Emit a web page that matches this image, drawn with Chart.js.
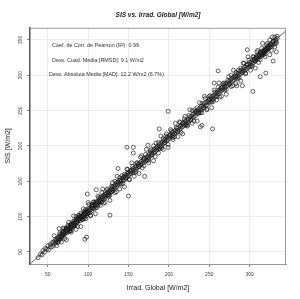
<!DOCTYPE html>
<html>
<head>
<meta charset="utf-8">
<script src="https://cdn.jsdelivr.net/npm/chart.js@4"></script>
<style>
  body { margin: 0; background: #fff; }
  #caja { width: 300px; height: 299px; }
</style>
</head>
<body>
<div id="caja"><canvas id="grafico" width="300" height="299"></canvas></div>
<script>
// Textos del grafico
const tituloGrafico = "SIS vs. Irrad. Global [W/m2]";
const tituloX = "Irrad. Global [W/m2]";
const tituloY = "SIS [W/m2]";
const estadisticos = [
    "Coef. de Corr. de Pearson (R\u00b2): 0.99",
    "Desv. Cuad. Media [RMSD]: 9.1 W/m2",
    "Desv. Absoluta Media [MAD]: 12.2 W/m2 (6.7%)"
];

// Ejes
const ticksX = [50, 100, 150, 200, 250, 300];
const ticksY = [50, 100, 150, 200, 250, 300, 350];
const rangoX = [28, 345];
const rangoY = [33, 367];

// Linea de referencia (extremos)
const refX = [28, 345];
const refY = [33, 363];

// Nube principal: irradiancia medida vs SIS
const irradNube = [
    38,41,43,44,46,47,49,50,51,53,
    54,55,56,57,58,59,60,60,61,62,
    62,63,64,64,65,65,66,66,67,67,
    68,68,69,69,70,70,71,71,72,72,
    73,73,74,74,75,75,76,76,77,77,
    78,78,79,79,80,80,81,81,82,82,
    83,83,84,84,85,85,86,86,87,87,
    88,88,89,89,90,90,91,91,92,92,
    93,93,94,94,95,95,96,96,97,97,
    98,98,99,99,100,100,101,102,102,103,
    104,104,105,105,106,107,107,108,109,109,
    110,110,111,112,112,113,114,114,115,115,
    116,117,117,118,119,119,120,121,121,122,
    123,124,124,125,126,126,127,128,129,129,
    130,130,131,132,133,134,135,135,136,137,
    138,139,140,140,141,142,143,144,145,145,
    146,147,148,149,150,150,151,152,153,154,
    155,156,157,158,159,160,161,162,163,164,
    165,166,167,168,169,170,171,172,173,174,
    175,176,177,178,179,180,181,182,183,184,
    185,186,187,188,189,190,191,192,193,194,
    195,196,197,198,199,200,201,202,203,204,
    205,206,207,208,209,210,211,212,213,214,
    215,216,217,218,219,220,221,222,223,224,
    225,226,227,228,229,230,231,232,233,234,
    235,236,237,238,239,240,241,242,243,244,
    245,246,247,248,249,250,251,252,253,254,
    255,256,257,258,259,260,261,262,263,264,
    265,266,267,268,269,270,271,272,273,274,
    275,276,277,278,279,280,281,282,283,284,
    285,286,287,288,289,290,291,292,293,294,
    295,296,297,298,299,300,301,302,303,304,
    305,306,307,308,309,310,311,312,313,314,
    315,316,317,318,319,320,321,322,323,324,
    325,326,327,328,329,330,331,332,334,333
];
const sisNube = [
    42,47,46,52,50,55,54,59,53,60,
    57,63,58,64,61,66,63,68,66,70,
    64,69,72,67,70,75,73,68,74,71,
    77,72,75,79,74,78,80,76,77,82,
    79,84,80,77,83,86,81,84,85,80,
    83,88,86,90,84,88,89,86,91,87,
    90,94,92,88,93,96,91,95,97,93,
    95,99,96,101,98,94,100,97,99,103,
    101,96,103,100,105,99,104,108,103,106,
    107,101,108,104,106,111,109,112,106,110,
    115,108,112,117,113,116,111,118,115,120,
    117,121,119,122,116,121,124,119,122,127,
    125,121,128,126,124,130,128,131,126,129,
    133,130,135,132,136,131,134,138,135,140,
    137,142,139,143,140,145,142,148,145,149,
    146,151,147,152,150,154,151,156,152,157,
    155,159,156,161,158,163,160,164,161,166,
    163,168,165,170,167,172,169,174,171,176,
    173,178,175,180,177,182,179,184,181,186,
    183,189,186,190,188,193,190,195,192,197,
    194,199,196,202,199,204,200,206,203,208,
    205,210,207,212,209,214,211,216,213,219,
    215,220,217,222,219,225,221,226,223,228,
    225,230,227,233,229,235,231,236,233,238,
    235,241,237,242,239,245,241,247,243,249,
    246,251,248,253,250,256,252,257,254,260,
    256,262,258,263,261,266,262,268,265,270,
    266,272,269,274,271,276,274,279,276,281,
    278,283,280,286,282,288,284,289,286,291,
    288,293,290,296,292,297,294,299,296,302,
    298,303,300,306,302,307,304,309,306,311,
    308,314,310,315,312,318,314,319,316,322,
    318,323,320,326,322,328,324,329,326,332,
    328,334,331,336,333,338,335,340,337,342,
    339,344,341,346,343,348,345,350,352,347
];

// Segunda franja de la nube (desvio intermedio)
const irradFranja = [
    63,65,67,69,71,73,75,77,79,81,
    83,85,87,89,91,93,95,97,99,101,
    103,105,107,109,111,113,115,117,119,121,
    123,125,127,129,131,133,135,137,139,141,
    143,145,147,149,151,153,155,157,159,161,
    163,165,167,169,171,173,175,177,179,181,
    183,185,187,189,191,193,195,197,199,201,
    203,205,207,209,211,213,215,217,219,221,
    223,225,227,229,231,233,235,237,239,241,
    243,245,247,249,251,253,255,257,259,261,
    263,265,267,269,271,273,275,277,279,281,
    283,285,287,289,291,293,295,297,299,301,
    303,305,307,309,311,313,315,317,319,321,
    323,325,327,329,331,333
];
const sisFranja = [
    64,77,71,84,69,82,88,79,80,93,
    87,100,86,99,105,96,97,110,104,117,
    102,115,121,112,113,127,121,134,119,132,
    138,129,130,143,137,150,135,149,155,146,
    147,160,154,167,152,165,171,162,163,176,
    171,184,169,182,188,179,180,193,187,200,
    185,198,205,196,197,210,204,217,202,215,
    221,212,213,226,220,234,219,232,238,229,
    230,243,237,250,235,248,254,246,247,260,
    254,267,252,265,271,262,263,276,270,283,
    269,282,288,279,280,293,287,300,285,298,
    304,295,296,310,304,317,302,315,321,312,
    313,326,320,333,318,332,338,329,330,343,
    337,350,335,348,354,345
];

// Puntos mas dispersos alrededor de la nube
const irradDisp = [
    58,61,64,67,70,73,76,79,82,85,
    88,91,94,97,100,103,106,109,112,115,
    118,121,124,127,130,133,136,139,142,145,
    148,151,154,157,160,163,166,169,172,175,
    178,181,184,187,190,193,196,199,202,205,
    208,211,214,217,220,223,226,229,232,235,
    238,241,244,247,250,253,256,259,262,265,
    268,271,274,277,280,283,286,289,292,295,
    298,301,304,307,310,313,316,319,322,325,
    328,331,334
];
const sisDisp = [
    73,59,83,64,83,67,92,78,101,82,
    102,86,111,97,120,101,120,104,129,116,
    139,120,139,123,148,134,157,139,158,142,
    167,153,176,157,176,161,186,172,195,176,
    195,179,204,190,214,195,214,198,223,209,
    232,213,233,217,242,228,251,232,251,235,
    261,247,270,251,270,254,279,265,289,270,
    289,273,298,284,307,288,307,292,317,303,
    326,307,326,310,335,322,345,326,345,329,
    354,340,355
];

// Valores atipicos
const irradAtip = [96,98,99,127,137,150,170,148,156,156,174,188,199,239,241,254,256,261,284,291,304,313,320,329,333,297,110];
const sisAtip   = [68,71,132,102,168,129,157,198,198,190,201,224,249,227,229,224,289,306,285,285,277,298,303,320,333,336,138];

// Cumulo denso en valores altos
const irradCumulo = [306,308,310,312,314,316,318,320,322,324,326,319,321,317,315];
const sisCumulo   = [321,324,326,327,330,332,334,336,338,341,343,335,337,331,329];

const fuente = "'Liberation Sans', Arial, sans-serif";

function aPuntos(xs, ys) {
    return xs.map((x, i) => ({ x: x, y: ys[i] }));
}

const puntos = []
    .concat(aPuntos(irradNube, sisNube))
    .concat(aPuntos(irradFranja, sisFranja))
    .concat(aPuntos(irradDisp, sisDisp))
    .concat(aPuntos(irradAtip, sisAtip))
    .concat(aPuntos(irradCumulo, sisCumulo));

// Marco del grafico y cuadro de estadisticos
const marco = {
    id: "marco",
    afterDraw(chart) {
        const { ctx, chartArea: a } = chart;
        ctx.save();
        ctx.strokeStyle = "#9a9a9a";
        ctx.lineWidth = 1;
        ctx.beginPath();
        ctx.moveTo(a.left, a.top + 0.5);
        ctx.lineTo(a.right - 0.5, a.top + 0.5);
        ctx.lineTo(a.right - 0.5, a.bottom);
        ctx.stroke();

        ctx.fillStyle = "#333";
        ctx.font = "5.4px " + fuente;
        ctx.textBaseline = "middle";
        ctx.fillText(estadisticos[0], a.left + 22, a.top + 18);
        ctx.fillText(estadisticos[1], a.left + 22, a.top + 32.5);
        ctx.fillText(estadisticos[2], a.left + 19, a.top + 46.5);
        ctx.restore();
    }
};

new Chart(document.getElementById("grafico"), {
    type: "scatter",
    data: {
        datasets: [
            {
                data: aPuntos(refX, refY),
                showLine: true,
                borderColor: "#444",
                borderWidth: 0.8,
                pointRadius: 0,
                fill: false
            },
            {
                data: puntos,
                pointRadius: 2,
                borderWidth: 0.65,
                borderColor: "#111",
                backgroundColor: "rgba(0,0,0,0)"
            }
        ]
    },
    options: {
        responsive: false,
        animation: false,
        devicePixelRatio: 1,
        events: [],
        layout: { padding: { left: 0, right: 14, top: 0, bottom: 0 } },
        plugins: {
            legend: { display: false },
            tooltip: { enabled: false },
            title: {
                display: true,
                fullSize: false,
                text: tituloGrafico,
                color: "#222",
                font: { family: fuente, size: 6.5, weight: "bold", style: "italic" },
                padding: { top: 11, bottom: 9 }
            }
        },
        scales: {
            x: {
                type: "linear",
                min: rangoX[0],
                max: rangoX[1],
                afterBuildTicks: (s) => { s.ticks = ticksX.map(v => ({ value: v })); },
                afterFit: (s) => { s.height = 35; },
                grid: { color: "#ececec", lineWidth: 1, tickLength: 3, tickColor: "#888" },
                border: { color: "#9a9a9a", width: 1 },
                ticks: { font: { family: fuente, size: 5 }, color: "#444", maxRotation: 0, padding: 5 },
                title: { display: true, text: tituloX, color: "#222", font: { family: fuente, size: 7 }, padding: { top: 0, bottom: 7 } }
            },
            y: {
                type: "linear",
                min: rangoY[0],
                max: rangoY[1],
                afterBuildTicks: (s) => { s.ticks = ticksY.map(v => ({ value: v })); },
                afterFit: (s) => { s.width = 30; },
                grid: { color: "#ececec", lineWidth: 1, tickLength: 3, tickColor: "#888" },
                border: { color: "#555", width: 1.5 },
                ticks: { font: { family: fuente, size: 5 }, color: "#444", minRotation: 90, maxRotation: 90, crossAlign: "center", padding: 2 },
                title: { display: true, text: tituloY, color: "#222", font: { family: fuente, size: 7 }, padding: { top: 4, bottom: 0 } }
            }
        }
    },
    plugins: [marco]
});
</script>
</body>
</html>
